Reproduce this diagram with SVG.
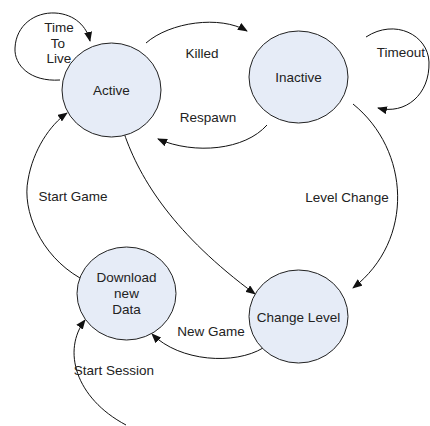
<svg xmlns="http://www.w3.org/2000/svg" width="430" height="426" viewBox="0 0 430 426">
<style>
.node{fill:#e6ecf7;stroke:#222;stroke-width:1}
.t{font-family:"Liberation Sans",Arial,sans-serif;font-size:13.5px;fill:#222;text-anchor:middle}
.c{fill:none;stroke:#111;stroke-width:1;marker-end:url(#arr)}
</style>
<defs>
<marker id="arr" markerWidth="10" markerHeight="8" refX="9" refY="4" orient="auto" markerUnits="userSpaceOnUse">
<path d="M0,0 L10,4 L0,8 Z" fill="#111"/>
</marker>
</defs>
<rect width="430" height="426" fill="#fff"/>
<g id="connectors">
<path class="c" d="M60,80 C30,82 14,65 15,48 C16,25 35,12 55,13 C75,14 87,27 90,41"/>
<path class="c" d="M146,43 C170,22 220,15 247,31"/>
<path class="c" d="M267,125 C245,150 195,155 158,139"/>
<path class="c" d="M366,37 C395,18 428,35 429,62 C430,95 405,115 378,108"/>
<path class="c" d="M353,104 C410,150 415,240 353,288"/>
<path class="c" d="M124,133 C140,180 175,235 255,294"/>
<path class="c" d="M80,278 C40,255 22,210 28,180 C33,150 50,125 67,113"/>
<path class="c" d="M263,348 C235,365 180,362 152,334"/>
<path class="c" d="M126,425 C75,398 62,350 85,320"/>
<text class="t" x="59" y="32">Time</text>
<text class="t" x="58" y="48">To</text>
<text class="t" x="59" y="63">Live</text>
<text class="t" x="202" y="58">Killed</text>
<text class="t" x="208" y="122">Respawn</text>
<text class="t" x="401" y="57">Timeout</text>
<text class="t" x="347" y="202">Level Change</text>
<text class="t" x="73" y="201">Start Game</text>
<text class="t" x="211" y="336">New Game</text>
<text class="t" x="114" y="375">Start Session</text>
</g>
<g id="active">
<ellipse class="node" cx="111.5" cy="90" rx="49.5" ry="47"/>
<text class="t" x="111.5" y="95">Active</text>
</g>
<g id="inactive">
<ellipse class="node" cx="298.5" cy="77" rx="49.5" ry="46"/>
<text class="t" x="298.5" y="82">Inactive</text>
</g>
<g id="download">
<ellipse class="node" cx="126.5" cy="293.5" rx="49.5" ry="46.5"/>
<text class="t" x="126.5" y="282">Download</text>
<text class="t" x="126.5" y="298">new</text>
<text class="t" x="126.5" y="314">Data</text>
</g>
<g id="changelevel">
<ellipse class="node" cx="298.5" cy="316.5" rx="49.5" ry="46.5"/>
<text class="t" x="298.5" y="322">Change Level</text>
</g>
</svg>
